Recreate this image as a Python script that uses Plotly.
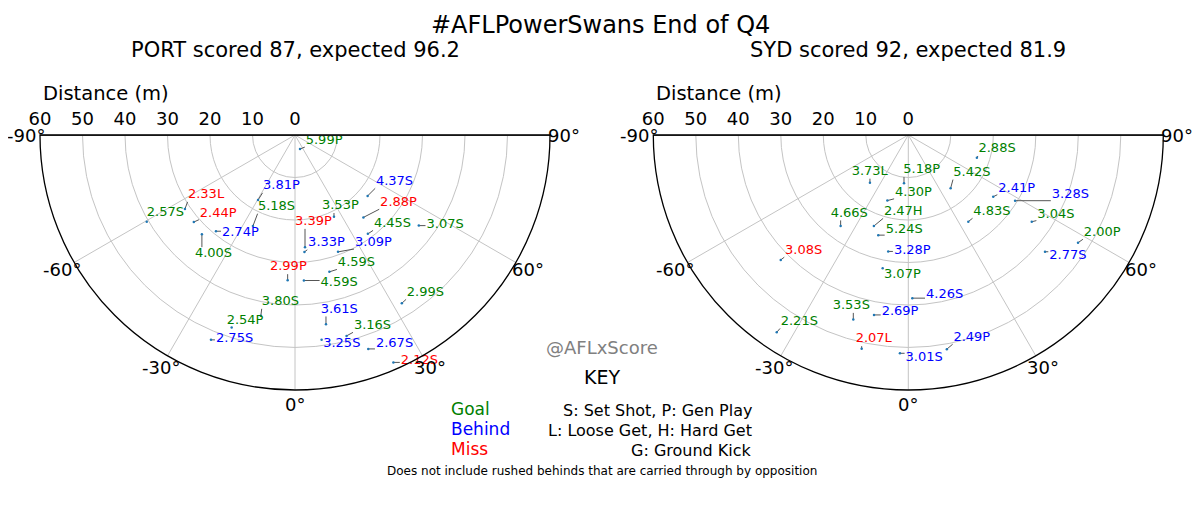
import math
import plotly.graph_objects as go

# PORT shots: distance (m), angle (deg), expected score, shot type, result
port_dist = [3.5, 17.6, 31.2, 40.4, 31.4, 29.3, 32.0, 23.6, 21.3, 26.5, 27.6, 29.3, 22.3, 25.2,
             28.9, 36.1, 33.2, 34.3, 34.2, 43.3, 47.7, 52.1, 45.1, 48.8, 48.6, 53.2, 46.9, 58.3]
port_angle = [19.7, -29.6, -56.1, -59.7, -49.3, -39.4, -43.2, -24.8, 25.5, 5.1, 4.6, 20.2, 50.0, 39.7,
              36.4, 53.8, 14.1, 3.5, -2.9, -10.7, -18.2, -22.3, 9.3, 14.4, 7.4, 18.9, 32.4, 23.4]
port_xs = [5.99, 3.81, 2.33, 2.57, 2.44, 2.74, 4.00, 5.18, 3.53, 3.39, 3.33, 3.09, 4.37, 2.88,
           4.45, 3.07, 4.59, 4.59, 2.99, 3.80, 2.54, 2.75, 3.61, 3.16, 3.25, 2.67, 2.99, 2.12]
port_type = ["P", "P", "L", "S", "P", "P", "S", "S", "P", "P", "P", "P", "S", "P",
             "S", "S", "S", "S", "P", "S", "P", "S", "S", "S", "S", "S", "S", "S"]
port_result = ["G", "B", "M", "G", "M", "B", "G", "G", "G", "M", "B", "B", "B", "M",
               "G", "G", "G", "G", "M", "G", "G", "B", "B", "G", "B", "B", "G", "M"]

# SYD shots
syd_dist = [17.0, 14.4, 11.4, 16.0, 16.2, 24.7, 29.5, 26.7, 22.9, 24.6, 24.8, 35.5,
            27.8, 42.0, 31.9, 42.3, 47.3, 38.4, 45.3, 43.1, 55.8, 51.5, 51.2, 51.4]
syd_angle = [71.6, -38.8, -5.1, 38.5, -17.7, 54.0, 58.4, -36.6, -20.7, -16.7, 34.7, 54.9,
             -9.8, -45.6, -10.9, 49.5, 57.6, 1.4, -16.6, -10.8, -33.7, -12.3, 10.2, -2.2]
syd_xs = [2.88, 3.73, 5.18, 5.42, 4.30, 2.41, 3.28, 4.66, 2.47, 5.24, 4.83, 3.04,
          3.28, 3.08, 3.07, 2.77, 2.00, 4.26, 3.53, 2.69, 2.21, 2.07, 2.49, 3.01]
syd_type = ["S", "L", "P", "S", "P", "P", "S", "S", "H", "S", "S", "S",
            "P", "S", "P", "S", "P", "S", "S", "P", "S", "L", "P", "S"]
syd_result = ["G", "G", "G", "G", "G", "B", "B", "G", "G", "G", "G", "G",
              "B", "M", "G", "B", "G", "B", "G", "B", "G", "M", "B", "B"]

# axis ticks
dist_ticks = [0, 10, 20, 30, 40, 50, 60]
angle_ticks = [-90, -60, -30, 0, 30, 60, 90]
angle_tick_text = ["-90°", "-60°", "-30°", "0°", "30°", "60°", "90°"]

# where each label sits relative to its shot, in pixels (left edge, middle)
port_label_off = [(5.7, -8.3), (5, -14), (3, -14), (0, -8.4), (6, -8.7), (6, 2), (-7, 20),
                  (5, -19.3), (-12, -10.7), (-10, -25.3), (3.7, -8.7), (17, -9), (8.3, -14.3),
                  (16.7, -14.6), (6, -10), (7.7, -0.7), (8.5, -8.7), (16.7, 2), (-17.7, -13),
                  (1, -14), (-5, -7), (5, -0.7), (-5.3, -14.7), (7.3, -10), (1.6, 4.3),
                  (7.7, -4.7), (5, -10.6), (7.4, -1.3)]
syd_label_off = [(1.6, -8.7), (-18.3, -11), (-0.7, -13.3), (2.6, -15.6), (7.7, -8), (5, -8.4),
                 (36.7, -5.7), (-10, -12.7), (10, -14.3), (7.4, -5), (5, -10), (5.6, -7.4),
                 (5.7, -0.6), (4.3, -9.3), (1.3, 6.7), (4.3, 4.3), (5.7, -10), (13.7, -3.3),
                 (-20.6, -13.6), (7.7, -3.3), (4, -10.6), (-6, -9.7), (6.6, -11.6), (5.7, 4.4)]

COLOURS = {"G": "green", "B": "blue", "M": "red"}
FONT = "DejaVu Sans"
R_MAX = 60
RADIUS_PX = 255
PX_PER_M = RADIUS_PX / R_MAX
W, H = 1200, 524
PAGE_PAD = 8  # the page body adds an 8px margin
TOP_Y = 135
CENTRES = {"polar": 295, "polar2": 908.3}


def to_xy(r, th):
    # x to the right, y downwards, in pixels
    t = math.radians(th)
    return r * math.sin(t) * PX_PER_M, r * math.cos(t) * PX_PER_M


def to_polar(x, y):
    return math.hypot(x, y) / PX_PER_M, math.degrees(math.atan2(x, y))


def px(x):
    return (x - PAGE_PAD) / W


def py(y):
    return 1 - (y - PAGE_PAD) / H


def note(text, x, y, size, color="black", xanchor="center"):
    fig.add_annotation(text=text, x=px(x), y=py(y), xref="paper", yref="paper",
                       xanchor=xanchor, yanchor="middle", showarrow=False,
                       font=dict(size=size, color=color, family=FONT))


def add_team(fig, subplot, dist, angle, xs, kind, result, offsets):
    labels = [f"{v:.2f}{k}" for v, k in zip(xs, kind)]
    colours = [COLOURS[c] for c in result]

    lab_r, lab_t = [], []
    line_r, line_t = [], []
    for r, th, lab, (ox, oy) in zip(dist, angle, labels, offsets):
        dx, dy = to_xy(r, th)
        ax, ay = dx + ox, dy + oy
        rr, tt = to_polar(ax, ay)
        lab_r.append(rr)
        lab_t.append(tt)
        # connector from the shot to the nearest edge of its label
        w = len(lab) * 7.6
        nx = min(max(dx, ax), ax + w)
        ny = min(max(dy, ay - 6), ay + 6)
        d = math.hypot(nx - dx, ny - dy)
        if d > 3:
            ex = dx + (nx - dx) * (d - 1) / d
            ey = dy + (ny - dy) * (d - 1) / d
            for a, b in [(dx, dy), (ex, ey)]:
                rr, tt = to_polar(a, b)
                line_r.append(rr)
                line_t.append(tt)
            line_r.append(None)
            line_t.append(None)

    fig.add_trace(go.Scatterpolar(r=line_r, theta=line_t, mode="lines", subplot=subplot,
                                  line=dict(color="#555555", width=1), hoverinfo="skip",
                                  showlegend=False))
    fig.add_trace(go.Scatterpolar(r=dist, theta=angle, mode="markers", subplot=subplot,
                                  marker=dict(color="#1f77b4", size=2.5), showlegend=False,
                                  text=labels, hoverinfo="text"))
    fig.add_trace(go.Scatterpolar(r=lab_r, theta=lab_t, mode="text", subplot=subplot,
                                  text=labels, textposition="middle right",
                                  marker=dict(size=1),
                                  textfont=dict(color=colours, size=13, family=FONT),
                                  cliponaxis=False, hoverinfo="skip", showlegend=False))
    # top edge of the half disc
    fig.add_trace(go.Scatterpolar(r=[R_MAX, 0, R_MAX], theta=[-90, 0, 90], mode="lines",
                                  subplot=subplot, line=dict(color="#555555", width=2),
                                  hoverinfo="skip", showlegend=False))
    # angle labels, centred just outside the arc
    cx = CENTRES[subplot]
    for a, t in zip(angle_ticks, angle_tick_text):
        lx, ly = to_xy(R_MAX + 14 / PX_PER_M, a)
        note(t, cx + lx, TOP_Y + ly, 18)


def polar_layout(cx):
    return dict(
        domain=dict(x=[px(cx - RADIUS_PX), px(cx + RADIUS_PX)],
                    y=[py(TOP_Y + RADIUS_PX), py(TOP_Y)]),
        sector=[180, 360],
        bgcolor="white",
        radialaxis=dict(range=[0, R_MAX], tickvals=dist_ticks, angle=180,
                        side="clockwise", showline=False, gridcolor="#c4c4c4", gridwidth=1,
                        ticks="outside", ticklen=6, tickcolor="rgba(0,0,0,0)",
                        tickfont=dict(size=18, color="black", family=FONT)),
        angularaxis=dict(rotation=270, direction="counterclockwise", tickmode="array",
                         tickvals=[a + 360 for a in angle_ticks],
                         showticklabels=False,
                         showline=True, linecolor="black", linewidth=1.3,
                         gridcolor="#c4c4c4", gridwidth=1, ticks=""),
    )


fig = go.Figure()
add_team(fig, "polar", port_dist, port_angle, port_xs, port_type, port_result, port_label_off)
add_team(fig, "polar2", syd_dist, syd_angle, syd_xs, syd_type, syd_result, syd_label_off)

note("#AFLPowerSwans End of Q4", 600, 25, 24)
note("PORT scored 87, expected 96.2", 295, 50, 21)
note("SYD scored 92, expected 81.9", 908, 50, 21)
note("Distance (m)", 41, 93, 19.5, xanchor="left")
note("Distance (m)", 654, 93, 19.5, xanchor="left")
note("@AFLxScore", 602, 347, 18, color="gray")
note("KEY", 602, 377, 19)
note("Goal", 449, 409, 17, color="green", xanchor="left")
note("Behind", 449, 429, 17, color="blue", xanchor="left")
note("Miss", 449, 449, 17, color="red", xanchor="left")
note("S: Set Shot, P: Gen Play", 754, 410, 16, xanchor="right")
note("L: Loose Get, H: Hard Get", 754, 430, 16, xanchor="right")
note("G: Ground Kick", 754, 450, 16, xanchor="right")
note("Does not include rushed behinds that are carried through by opposition", 602, 471, 12)

fig.update_layout(
    width=W, height=H,
    margin=dict(l=0, r=0, t=0, b=0),
    paper_bgcolor="white",
    font=dict(family=FONT),
    polar=polar_layout(CENTRES["polar"]),
    polar2=polar_layout(CENTRES["polar2"]),
)

fig.write_html("out.html")
